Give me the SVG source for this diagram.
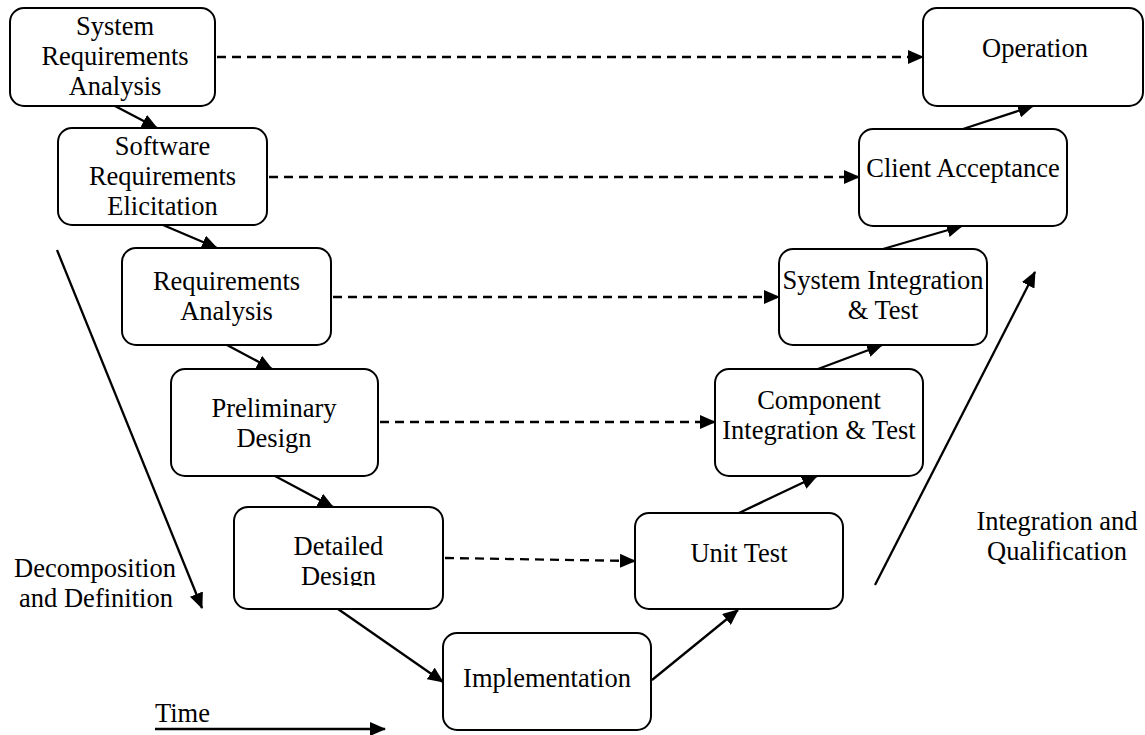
<svg xmlns="http://www.w3.org/2000/svg" width="1145" height="735" viewBox="0 0 1145 735">
  <style>
    .box { fill: #fff; stroke: #000; stroke-width: 2; }
    text { font-family: 'Liberation Serif', 'DejaVu Serif', serif; font-size: 26.5px; fill: #000; }
    .lbl { text-anchor: middle; }
    .flow { stroke: #000; stroke-width: 2.3; fill: none; marker-end: url(#ah); }
    .trace { stroke: #000; stroke-width: 2.3; fill: none; stroke-dasharray: 9 6; marker-end: url(#ah); }
  </style>
  <defs>
    <marker id="ah" viewBox="0 0 16 14" refX="15" refY="7" markerWidth="16" markerHeight="14" markerUnits="userSpaceOnUse" orient="auto">
      <path d="M0,0 L16,7 L0,14 z" fill="#000"/>
    </marker>
    <clipPath id="ddClip">
      <rect x="234" y="507" width="209" height="79"/>
    </clipPath>
  </defs>

  <rect width="1145" height="735" fill="#fff"/>

  <!-- connectors -->
  <g id="connectors">
    <!-- left leg, going down -->
    <path class="flow" d="M115,106 L157,128"/>
    <path class="flow" d="M163,225 L217,248"/>
    <path class="flow" d="M227,345 L272,369"/>
    <path class="flow" d="M275,476 L333,507"/>
    <path class="flow" d="M338,609 L443,682"/>
    <!-- right leg, going up -->
    <path class="flow" d="M652,680 L738,610"/>
    <path class="flow" d="M739,513 L817,476"/>
    <path class="flow" d="M818,369 L882,345"/>
    <path class="flow" d="M883,249 L962,226"/>
    <path class="flow" d="M963,129 L1033,106"/>
    <!-- verification links -->
    <path class="trace" d="M217,57 L923,57"/>
    <path class="trace" d="M269,177 L859,177"/>
    <path class="trace" d="M333,297 L779,297"/>
    <path class="trace" d="M380,422 L715,422"/>
    <path class="trace" d="M445,558 L635,561"/>
    <!-- phase axes -->
    <path class="flow" d="M57,250 L202,608"/>
    <path class="flow" d="M875,585 L1035,272"/>
    <path class="flow" d="M155,729 L385,729"/>
  </g>

  <g id="sysReq">
    <rect class="box" x="10" y="8" width="205" height="98" rx="14"/>
    <text class="lbl" x="115" y="35">System</text>
    <text class="lbl" x="115" y="65">Requirements</text>
    <text class="lbl" x="115" y="95">Analysis</text>
  </g>

  <g id="swReq">
    <rect class="box" x="58" y="128" width="209" height="97" rx="14"/>
    <text class="lbl" x="162.5" y="155">Software</text>
    <text class="lbl" x="162.5" y="185">Requirements</text>
    <text class="lbl" x="162.5" y="215">Elicitation</text>
  </g>

  <g id="reqAnalysis">
    <rect class="box" x="122" y="248" width="209" height="97" rx="14"/>
    <text class="lbl" x="226.5" y="290">Requirements</text>
    <text class="lbl" x="226.5" y="320">Analysis</text>
  </g>

  <g id="prelimDesign">
    <rect class="box" x="171" y="369" width="207" height="107" rx="14"/>
    <text class="lbl" x="274" y="417">Preliminary</text>
    <text class="lbl" x="274" y="447">Design</text>
  </g>

  <g id="detailedDesign">
    <rect class="box" x="234" y="507" width="209" height="102" rx="14"/>
    <!-- second line is cut off at the bottom edge of its text frame -->
    <g clip-path="url(#ddClip)">
      <text class="lbl" x="338.5" y="555">Detailed</text>
      <text class="lbl" x="338.5" y="585">Design</text>
    </g>
  </g>

  <g id="implementation">
    <rect class="box" x="443" y="633" width="208" height="97" rx="14"/>
    <text class="lbl" x="547" y="687">Implementation</text>
  </g>

  <g id="unitTest">
    <rect class="box" x="635" y="513" width="208" height="96" rx="14"/>
    <text class="lbl" x="739" y="562">Unit Test</text>
  </g>

  <g id="componentIT">
    <rect class="box" x="715" y="369" width="208" height="107" rx="14"/>
    <text class="lbl" x="819" y="409">Component</text>
    <text class="lbl" x="819" y="439">Integration &amp; Test</text>
  </g>

  <g id="systemIT">
    <rect class="box" x="779" y="249" width="208" height="96" rx="14"/>
    <text class="lbl" x="883" y="289">System Integration</text>
    <text class="lbl" x="883" y="319">&amp; Test</text>
  </g>

  <g id="clientAcceptance">
    <rect class="box" x="859" y="129" width="208" height="97" rx="14"/>
    <text class="lbl" x="963" y="177">Client Acceptance</text>
  </g>

  <g id="operation">
    <rect class="box" x="923" y="8" width="220" height="98" rx="14"/>
    <text class="lbl" x="1035" y="57">Operation</text>
  </g>

  <g id="axisLabels">
    <text class="lbl" x="95" y="577">Decomposition</text>
    <text class="lbl" x="96" y="607">and Definition</text>
    <text class="lbl" x="1057" y="530">Integration and</text>
    <text class="lbl" x="1057" y="560">Qualification</text>
    <text x="155" y="722">Time</text>
  </g>
</svg>
